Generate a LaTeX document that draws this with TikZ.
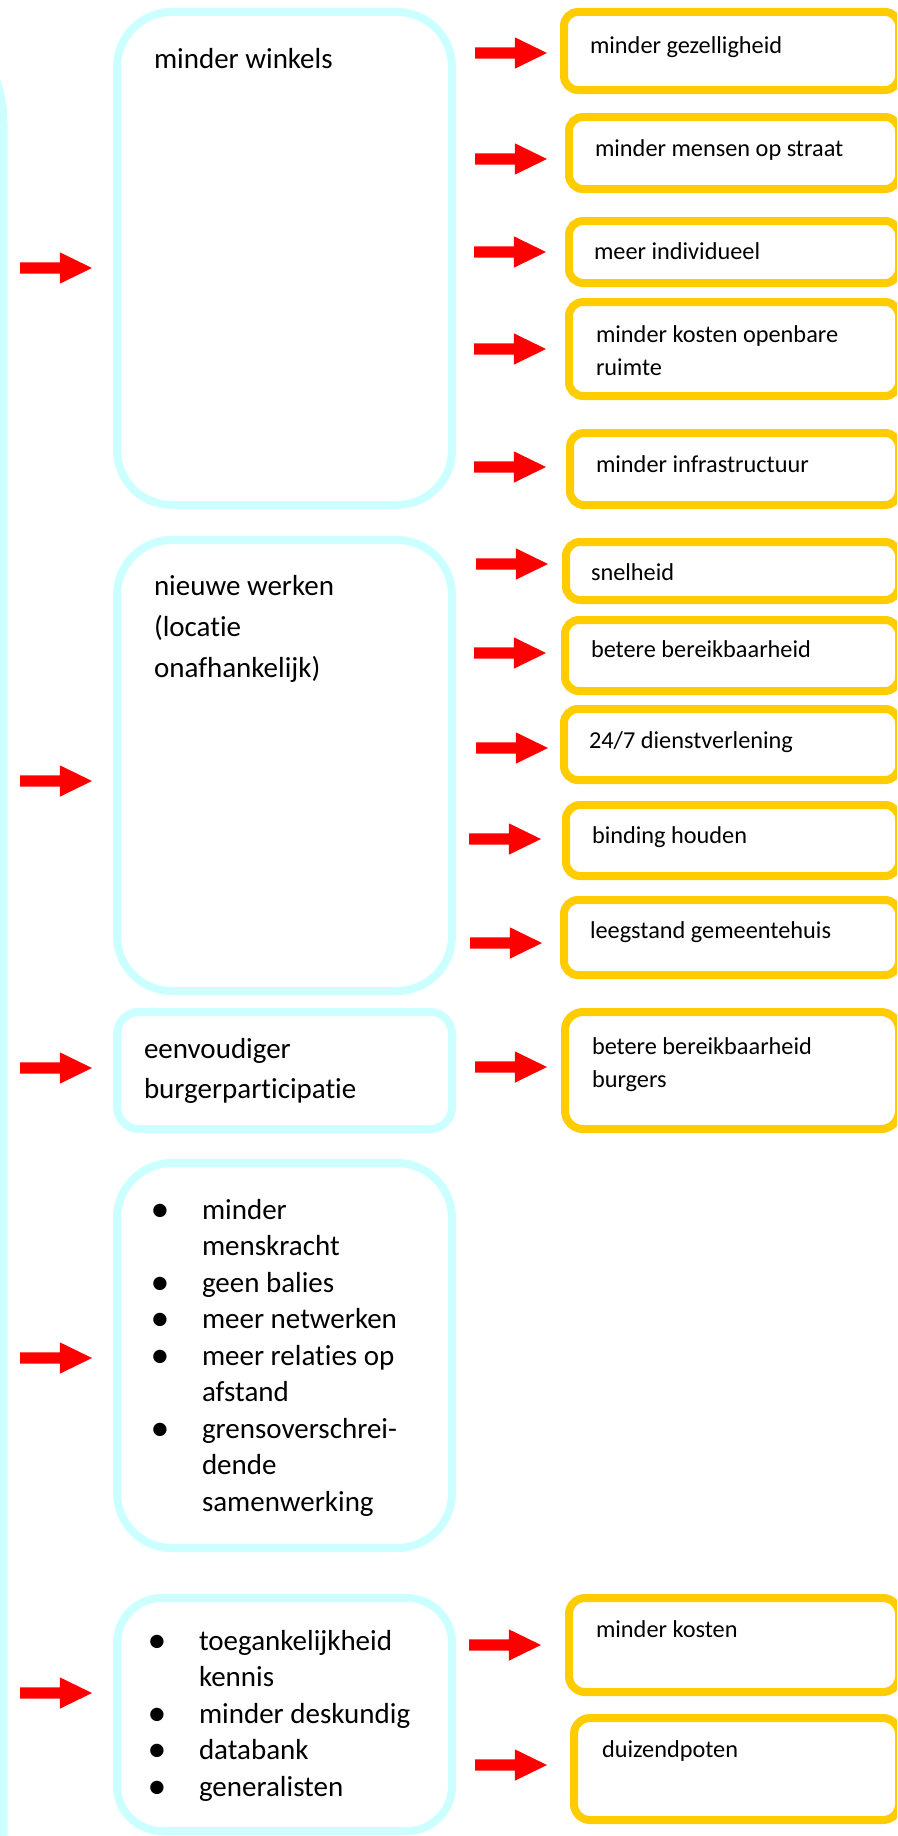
\documentclass[tikz,border=0pt]{standalone}
\usepackage{fontspec}
\usepackage{graphicx}
\setmainfont{Carlito}[Ligatures=NoCommon]
\usetikzlibrary{shapes.arrows}
\definecolor{cyanb}{HTML}{CCFFFF}
\definecolor{yel}{HTML}{FFCC00}
\newcommand{\mlines}[1]{\begin{tabular}[t]{@{}l@{}}#1\end{tabular}}
\newcommand{\blines}[1]{\begin{tabular}[t]{@{}l@{}l@{}}#1\end{tabular}}
\newcommand{\bu}{\makebox[42pt][l]{\makebox[0pt]{\raisebox{-2pt}{\scalebox{1.3}{\textbullet}}}}}
\begin{document}
\begin{tikzpicture}[x=1pt,y=-1pt,
  cbox/.style={draw=cyanb, line width=8pt, rectangle, inner sep=0pt, outer sep=0pt, anchor=north west},
  ybox/.style={draw=yel, line width=8pt, rectangle, inner sep=0pt, outer sep=0pt, rounded corners=14pt, anchor=north west},
  bigtext/.style={anchor=base west, inner sep=0pt, outer sep=0pt, font=\fontsize{29}{41}\selectfont},
  listtext/.style={anchor=base west, inner sep=0pt, outer sep=0pt, font=\fontsize{29}{36.5}\selectfont},
  smalltext/.style={anchor=base west, inner sep=0pt, outer sep=0pt, font=\fontsize{24.3}{33}\selectfont},
  rarr/.style={single arrow, fill=red, draw=none, minimum height=72pt, minimum width=31pt,
    single arrow head extend=10pt, single arrow tip angle=52, inner sep=5.5pt, outer sep=0pt, anchor=tip},
]
\useasboundingbox (0,0) rectangle (897,1836);
\clip (0,0) rectangle (897,1836);
\fill[white] (0,0) rectangle (897,1836);

% left bar
\node[cbox, rounded corners=131pt, minimum width=600pt, minimum height=2200pt, anchor=north east] (bar) at (3.5,-8) {};

% cyan boxes
\node[cbox, rounded corners=55pt, minimum width=335pt, minimum height=493pt] (c1) at (117,12) {};
\node[cbox, rounded corners=55pt, minimum width=335pt, minimum height=451pt] (c2) at (117,540) {};
\node[cbox, rounded corners=22pt, minimum width=335pt, minimum height=117pt] (c3) at (117,1012) {};
\node[cbox, rounded corners=55pt, minimum width=335pt, minimum height=385pt] (c4) at (117,1163) {};
\node[cbox, rounded corners=45pt, minimum width=335pt, minimum height=233pt] (c5) at (117,1598) {};

\node[bigtext] (t1) at (154,69) {minder winkels};
\node[bigtext] (t2) at (154,595) {\mlines{nieuwe werken\\(locatie\\onafhankelijk)}};
\node[bigtext, font=\fontsize{29}{40}\selectfont] (t3) at (144,1058) {\mlines{eenvoudiger\\burgerparticipatie}};
\node[listtext] (t4) at (160,1219) {\blines{\bu & minder\\ & menskracht\\ \bu & geen balies\\ \bu & meer netwerken\\ \bu & meer relaties op\\ & afstand\\ \bu & grensoverschrei-\\ & dende\\ & samenwerking}};
\node[listtext] (t5) at (157,1650) {\blines{\bu & toegankelijkheid\\ & kennis\\ \bu & minder deskundig\\ \bu & databank\\ \bu & generalisten}};

% left arrows
\node[rarr] (la1) at (92,268) {};
\node[rarr] (la2) at (92,781) {};
\node[rarr] (la3) at (92,1068) {};
\node[rarr] (la4) at (92,1358) {};
\node[rarr] (la5) at (92,1693) {};

% yellow boxes
\node[ybox, minimum width=335pt, minimum height=78pt] (y1) at (564,12) {};
\node[ybox, minimum width=330pt, minimum height=72pt] (y2) at (569,117) {};
\node[ybox, minimum width=330pt, minimum height=62pt] (y3) at (569,221) {};
\node[ybox, minimum width=330pt, minimum height=94pt] (y4) at (569,302) {};
\node[ybox, minimum width=329pt, minimum height=72pt] (y5) at (570,433) {};
\node[ybox, minimum width=333pt, minimum height=58pt] (y6) at (566,542) {};
\node[ybox, minimum width=334pt, minimum height=71pt] (y7) at (565,620) {};
\node[ybox, minimum width=335pt, minimum height=71pt] (y8) at (564,709) {};
\node[ybox, minimum width=333pt, minimum height=71pt] (y9) at (566,805) {};
\node[ybox, minimum width=335pt, minimum height=75pt] (y10) at (564,900) {};
\node[ybox, rounded corners=18pt, minimum width=334pt, minimum height=117pt] (y11) at (565,1012) {};
\node[ybox, rounded corners=16pt, minimum width=330pt, minimum height=94pt] (y12) at (569,1598) {};
\node[ybox, rounded corners=16pt, minimum width=325pt, minimum height=102pt] (y13) at (574,1718) {};

\node[smalltext] (s1) at (590,53) {minder gezelligheid};
\node[smalltext] (s2) at (595,156) {minder mensen op straat};
\node[smalltext] (s3) at (594,259) {meer individueel};
\node[smalltext] (s4) at (596,342) {\mlines{minder kosten openbare\\ruimte}};
\node[smalltext] (s5) at (596,472) {minder infrastructuur};
\node[smalltext] (s6) at (591,580) {snelheid};
\node[smalltext] (s7) at (591,657) {betere bereikbaarheid};
\node[smalltext] (s8) at (589,748) {24/7 dienstverlening};
\node[smalltext] (s9) at (592,843) {binding houden};
\node[smalltext] (s10) at (590,938) {leegstand gemeentehuis};
\node[smalltext] (s11) at (592,1054) {\mlines{betere bereikbaarheid\\burgers}};
\node[smalltext] (s12) at (596,1637) {minder kosten};
\node[smalltext] (s13) at (602,1757) {duizendpoten};

% right arrows
\node[rarr] (ra1) at (547,53) {};
\node[rarr] (ra2) at (547,159) {};
\node[rarr] (ra3) at (546,252) {};
\node[rarr] (ra4) at (546,349) {};
\node[rarr] (ra5) at (546,467) {};
\node[rarr] (ra6) at (548,564) {};
\node[rarr] (ra7) at (546,653) {};
\node[rarr] (ra8) at (548,748) {};
\node[rarr] (ra9) at (541,839) {};
\node[rarr] (ra10) at (542,943) {};
\node[rarr] (ra11) at (547,1067) {};
\node[rarr] (ra12) at (541,1645) {};
\node[rarr] (ra13) at (547,1765) {};
\end{tikzpicture}
\end{document}
